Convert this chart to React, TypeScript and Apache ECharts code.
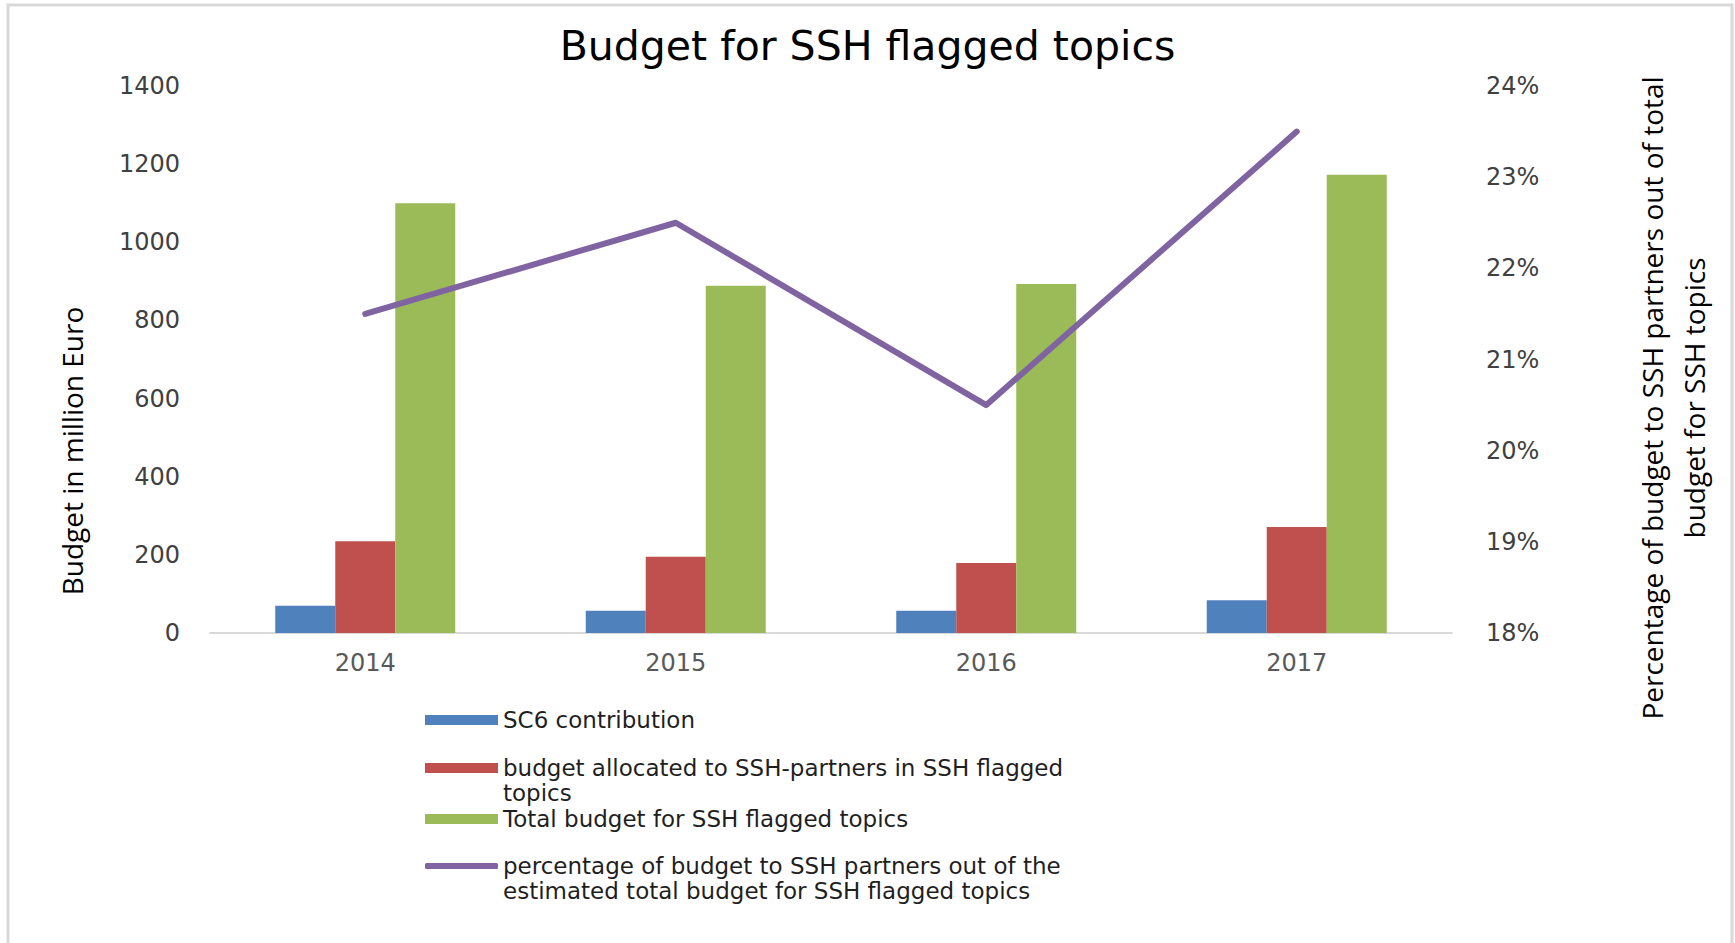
import React, { useEffect, useRef } from "react";
import * as echarts from "echarts";

const years = ["2014", "2015", "2016", "2017"];
const sc6Contribution = [70, 57, 57, 84];
const sshPartnersBudget = [235, 195, 179, 271];
const totalBudget = [1100, 889, 893, 1173];
const sshPercentage = [21.5, 22.5, 20.5, 23.5];

const leftMin = 0;
const leftMax = 1400;
const leftInterval = 200;
const rightMin = 18;
const rightMax = 24;
const rightInterval = 1;

const nameSC6 = "SC6 contribution";
const nameSSH = "budget allocated to SSH-partners in SSH flagged topics";
const nameTotal = "Total budget for SSH flagged topics";
const namePct =
  "percentage of budget to SSH partners out of the estimated total budget for SSH flagged topics";

const labelSSH = " \nbudget allocated to SSH-partners in SSH flagged\ntopics";
const labelPct =
  " \npercentage of budget to SSH partners out of the\nestimated total budget for SSH flagged topics";

const titleText = "Budget for SSH flagged topics";
const leftAxisTitle = "Budget in million Euro";
const rightAxisTitle =
  "Percentage of budget to SSH partners out of total\nbudget for SSH topics";

const COLORS = {
  blue: "#4F81BD",
  red: "#C0504D",
  green: "#9BBB59",
  purple: "#8064A2",
};

const VERD = "'DejaVu Sans', Verdana, sans-serif";
const CAL = "'Open Sans', 'Noto Sans', sans-serif";

function makeLegend(
  name: string,
  icon: string,
  top: number,
  itemHeight: number
) {
  return {
    show: true,
    orient: "vertical",
    left: 425,
    top,
    padding: 0,
    itemWidth: 73,
    itemHeight,
    selectedMode: false,
    data: [{ name, icon }],
    formatter: (n: string) =>
      n === nameSSH ? labelSSH : n === namePct ? labelPct : n,
    textStyle: {
      fontFamily: VERD,
      fontSize: 23,
      lineHeight: 25,
      color: "#1f1f1f",
    },
  };
}

export default function App() {
  const ref = useRef<HTMLDivElement>(null);

  useEffect(() => {
    if (!ref.current) return;
    const chart = echarts.init(ref.current, null, { renderer: "svg" });
    const option: any = {
      animation: false,
      backgroundColor: "#ffffff",
      title: {
        text: titleText,
        left: "center",
        top: 23,
        padding: 0,
        textStyle: {
          fontFamily: VERD,
          fontSize: 41,
          fontWeight: "normal",
          color: "#000000",
          lineHeight: 46,
        },
      },
      grid: {
        left: 210,
        right: 283,
        top: 86,
        bottom: 943 - 633,
        containLabel: false,
      },
      legend: [
        makeLegend(nameSC6, "rect", 720 - 12.5, 10),
        makeLegend(nameSSH, "rect", 768 - 37.5, 10),
        makeLegend(nameTotal, "rect", 819 - 12.5, 10),
        makeLegend(namePct, "roundRect", 866 - 37.5, 6),
      ],
      xAxis: {
        type: "category",
        data: years,
        axisLine: { show: true, lineStyle: { color: "#d9d9d9", width: 2 } },
        axisTick: { show: false },
        axisLabel: {
          fontFamily: VERD,
          fontSize: 24,
          color: "#595959",
          margin: 18,
        },
        splitLine: { show: false },
      },
      yAxis: [
        {
          type: "value",
          min: leftMin,
          max: leftMax,
          interval: leftInterval,
          axisLine: { show: false },
          axisTick: { show: false },
          splitLine: { show: false },
          axisLabel: {
            fontFamily: VERD,
            fontSize: 24,
            color: "#404040",
            margin: 30,
            formatter: (v: number) => String(v),
          },
        },
        {
          type: "value",
          position: "right",
          min: rightMin,
          max: rightMax,
          interval: rightInterval,
          axisLine: { show: false },
          axisTick: { show: false },
          splitLine: { show: false },
          axisLabel: {
            fontFamily: VERD,
            fontSize: 24,
            color: "#404040",
            margin: 34,
            formatter: (v: number) => `${v}%`,
          },
        },
      ],
      series: [
        {
          name: nameSC6,
          type: "bar",
          data: sc6Contribution,
          barWidth: 60,
          barGap: "0%",
          itemStyle: { color: COLORS.blue },
          yAxisIndex: 0,
        },
        {
          name: nameSSH,
          type: "bar",
          data: sshPartnersBudget,
          barWidth: 60,
          barGap: "0%",
          itemStyle: { color: COLORS.red },
          yAxisIndex: 0,
        },
        {
          name: nameTotal,
          type: "bar",
          data: totalBudget,
          barWidth: 60,
          barGap: "0%",
          itemStyle: { color: COLORS.green },
          yAxisIndex: 0,
        },
        {
          name: namePct,
          type: "line",
          data: sshPercentage,
          yAxisIndex: 1,
          symbol: "none",
          showSymbol: false,
          itemStyle: { color: COLORS.purple },
          lineStyle: { color: COLORS.purple, width: 6, cap: "round", join: "round" },
          z: 5,
        },
      ],
      graphic: [
        {
          type: "rect",
          silent: true,
          shape: { x: 8, y: 5, width: 1724, height: 1000 },
          style: { fill: "none", stroke: "#d9d9d9", lineWidth: 3 },
          z: -1,
        },
        {
          type: "text",
          silent: true,
          x: 72,
          y: 451,
          rotation: Math.PI / 2,
          style: {
            text: leftAxisTitle,
            fontFamily: CAL,
            fontSize: 28,
            fill: "#000000",
            align: "center",
            verticalAlign: "middle",
          },
        },
        {
          type: "text",
          silent: true,
          x: 1673,
          y: 398,
          rotation: Math.PI / 2,
          style: {
            text: rightAxisTitle,
            fontFamily: CAL,
            fontSize: 28,
            lineHeight: 42,
            fill: "#000000",
            align: "center",
            verticalAlign: "middle",
          },
        },
      ],
    };
    chart.setOption(option);
    return () => {
      chart.dispose();
    };
  }, []);

  return (
    <div
      ref={ref}
      style={{
        position: "absolute",
        left: 0,
        top: 0,
        width: 1735,
        height: 943,
        background: "#fff",
      }}
    />
  );
}
